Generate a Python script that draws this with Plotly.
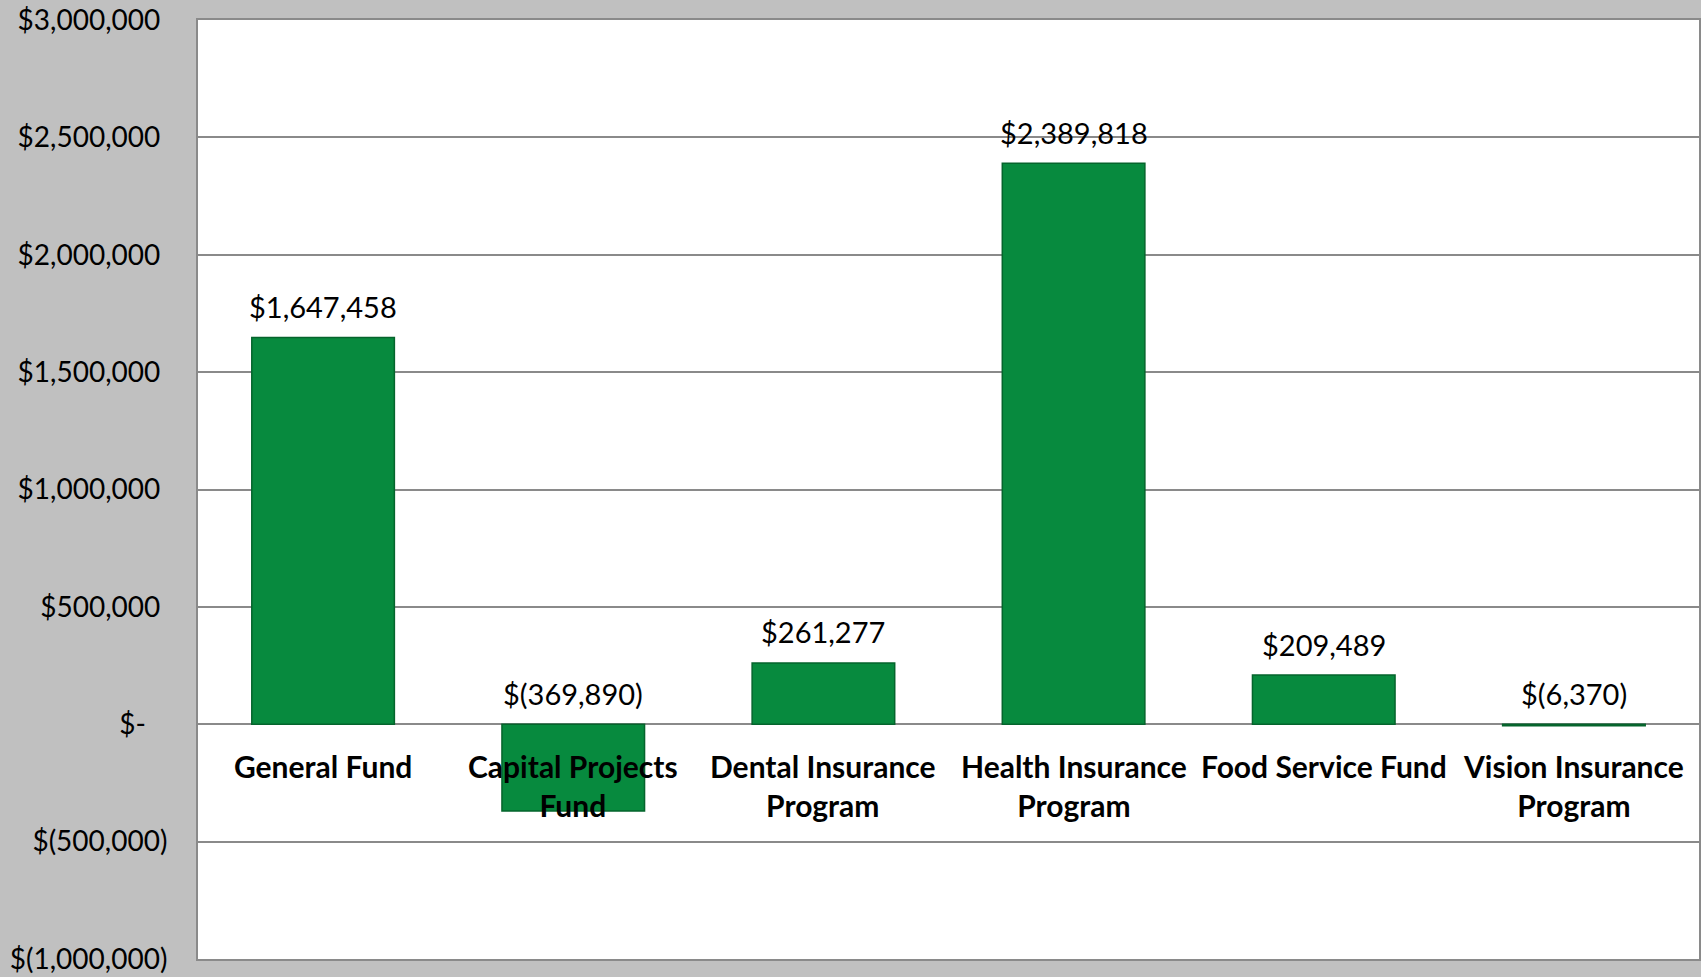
import plotly.graph_objects as go

categories = ["General Fund", "Capital Projects Fund", "Dental Insurance Program",
              "Health Insurance Program", "Food Service Fund", "Vision Insurance Program"]
category_labels = ["General Fund", "Capital Projects<br>Fund", "Dental Insurance<br>Program",
                   "Health Insurance<br>Program", "Food Service Fund", "Vision Insurance<br>Program"]
values = [1647458, -369890, 261277, 2389818, 209489, -6370]
tick_values = [-1000000, -500000, 0, 500000, 1000000, 1500000, 2000000, 2500000, 3000000]


def accounting(v, pad_positive=True):
    if v == 0:
        return "$-\u00a0\u00a0\u00a0"
    if v < 0:
        return "$({:,})".format(-v)
    return "${:,}".format(v) + ("\u00a0" if pad_positive else "")


tick_text = [accounting(v) for v in tick_values]
value_labels = [accounting(v, False) for v in values]

FONT = "Lato"
GREEN = "#078a3e"

fig = go.Figure()
fig.add_trace(go.Bar(
    x=categories, y=values,
    marker=dict(color=GREEN, line=dict(color="#05642c", width=1.5)),
    hoverinfo="skip",
))

annotations = []
for cat, v, lab in zip(categories, values, value_labels):
    annotations.append(dict(
        x=cat, y=max(v, 0), xref="x", yref="y", text=lab, showarrow=False,
        yanchor="middle", yshift=31, font=dict(family=FONT, size=29, color="black"),
    ))
for cat, lab in zip(categories, category_labels):
    annotations.append(dict(
        x=cat, y=0, xref="x", yref="y", text="<b>" + lab + "</b>", showarrow=False,
        yanchor="top", yshift=-22, font=dict(family=FONT, size=30, color="black"),
    ))

fig.update_layout(
    width=1701, height=977,
    margin=dict(l=198, r=0, t=20, b=18),
    paper_bgcolor="#c0c0c0", plot_bgcolor="white",
    font=dict(family=FONT, size=28, color="black"),
    bargap=0.43, showlegend=False,
    annotations=annotations,
    xaxis=dict(showticklabels=False, showgrid=False, zeroline=False,
               showline=True, linecolor="#8a8a8a", linewidth=2, mirror=True,
               ticks=""),
    yaxis=dict(range=[-1000000, 3000000], tickvals=tick_values, ticktext=tick_text,
               showgrid=True, gridcolor="#8a8a8a", gridwidth=1.5,
               zeroline=True, zerolinecolor="#8a8a8a", zerolinewidth=1.5,
               showline=True, linecolor="#8a8a8a", linewidth=2, mirror=True,
               ticks="", ticklabelstandoff=23,
               tickfont=dict(family=FONT, size=28, color="black")),
)

fig.write_html("out.html", config={"displayModeBar": False},
               post_script="document.body.style.margin='0';")
